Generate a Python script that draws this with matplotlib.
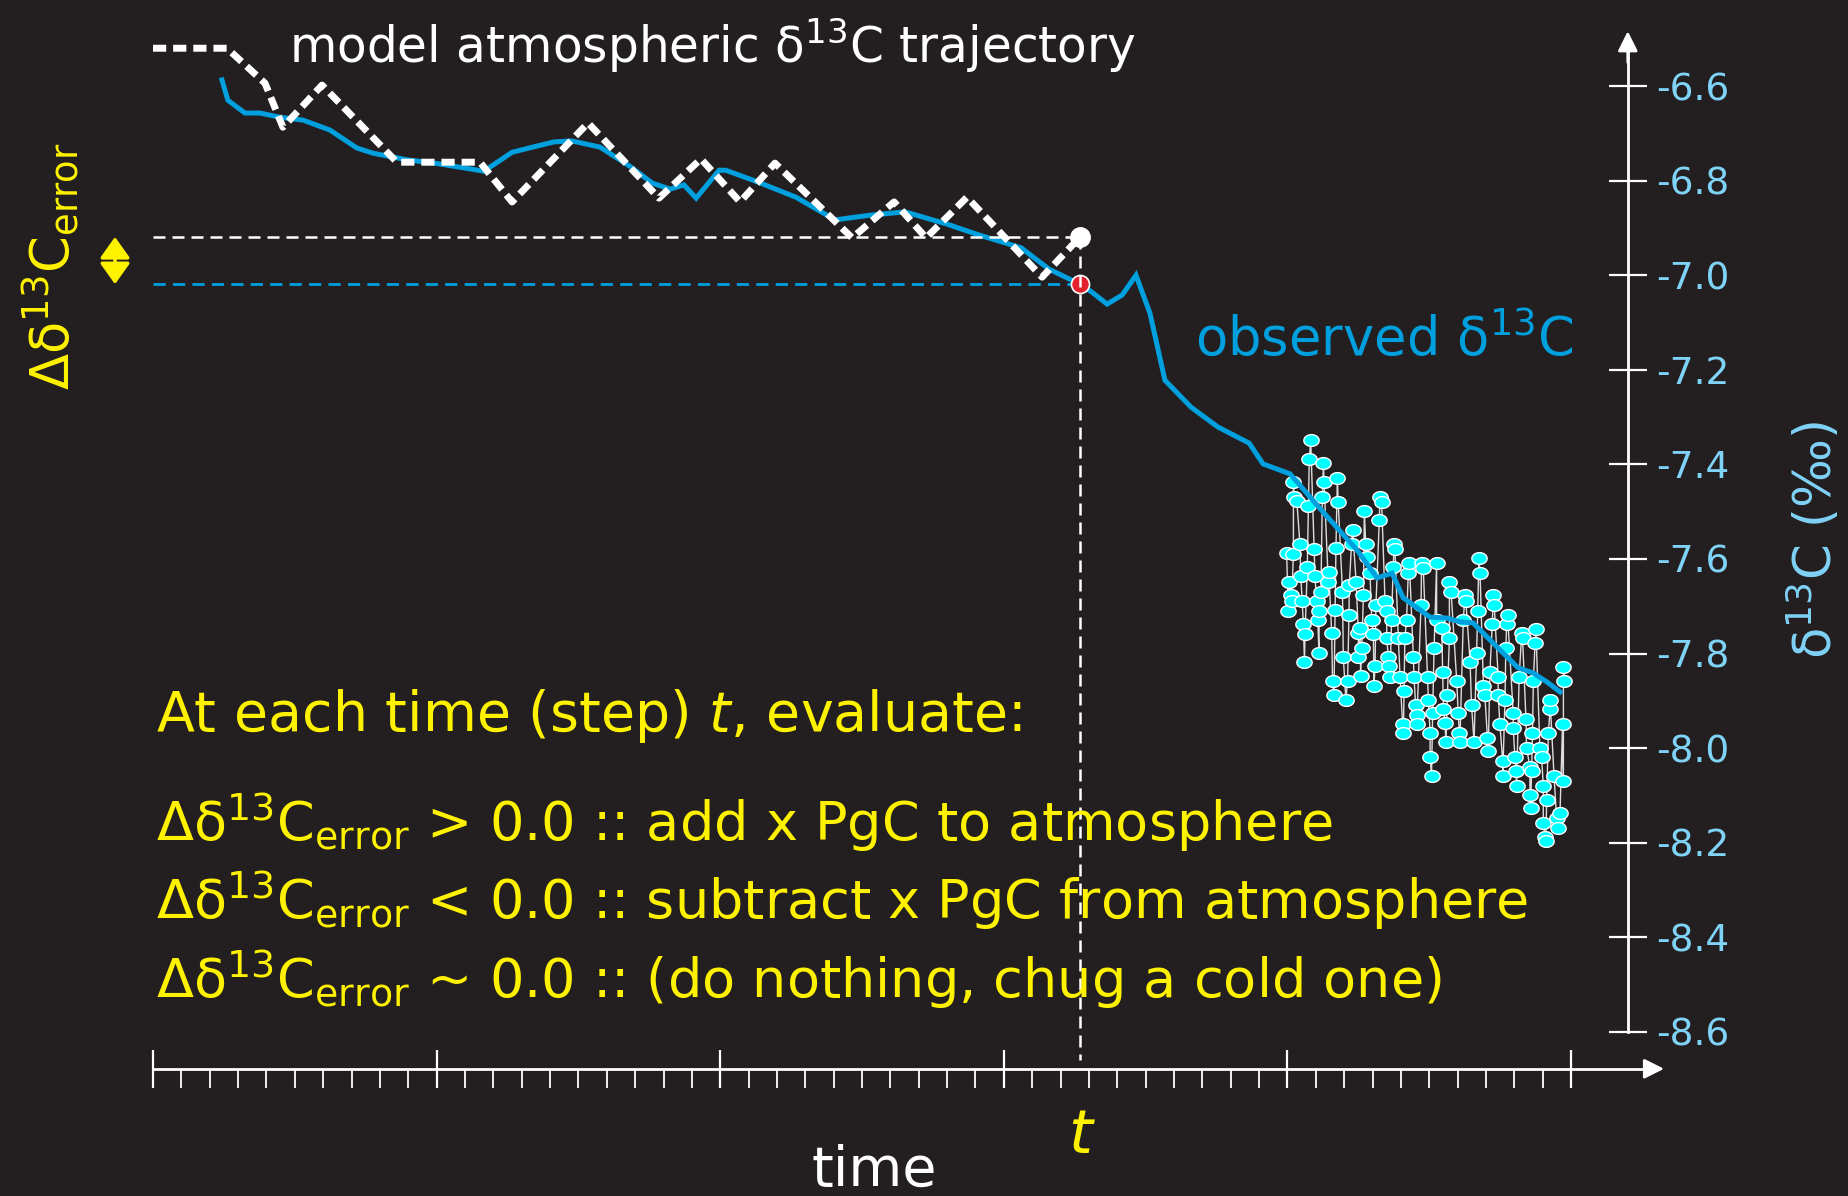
import numpy as np
import matplotlib.pyplot as plt
from matplotlib.path import Path
from matplotlib.ticker import FixedLocator

plt.rcParams['font.family'] = ['DejaVu Sans']
plt.rcParams['mathtext.fontset'] = 'dejavusans'
plt.rcParams['axes.unicode_minus'] = False

W, H = 1849, 1196
BG = '#231f20'
YELLOW = '#fff200'
OBS_BLUE = '#00a0df'
TICK_BLUE = '#7fd3f7'
CYAN = '#00ffff'

# model atmospheric d13C trajectory (time step, permil)
model_t = [0.0, 2.61, 3.95, 4.58, 5.96, 8.60, 11.53, 12.66, 15.34, 17.84, 19.32,
           20.70, 21.93, 24.65, 26.13, 27.26, 28.70, 31.35, 32.69]
model_d13c = [-6.520, -6.520, -6.594, -6.687, -6.598, -6.761, -6.761, -6.845, -6.678,
              -6.837, -6.754, -6.845, -6.763, -6.921, -6.845, -6.921, -6.835, -7.004, -6.919]

# observed (smoothed) d13C
obs_t = [2.43, 2.64, 3.24, 3.77, 4.48, 5.29, 6.24, 7.19, 7.76, 8.46, 8.96, 9.94, 11.67,
         12.66, 13.26, 14.14, 14.77, 15.76, 16.85, 17.60, 18.23, 18.72, 19.15, 19.96,
         20.20, 21.33, 22.67, 24.05, 25.28, 26.52, 28.00, 29.13, 30.61, 31.59, 32.69,
         33.11, 33.64, 34.17, 34.66, 35.15, 35.68, 36.60, 37.55, 38.65, 39.14, 40.09,
         40.44, 41.04, 41.75, 42.45, 43.16, 43.69, 44.08, 45.03, 45.63, 46.09, 46.54,
         47.39, 48.13, 48.66, 49.15, 49.61]
obs_d13c = [-6.587, -6.630, -6.657, -6.657, -6.666, -6.672, -6.693, -6.731, -6.742,
            -6.750, -6.756, -6.763, -6.780, -6.740, -6.731, -6.718, -6.716, -6.729,
            -6.771, -6.805, -6.818, -6.809, -6.837, -6.778, -6.778, -6.803, -6.835,
            -6.883, -6.873, -6.866, -6.892, -6.915, -6.942, -6.987, -7.019, -7.036,
            -7.061, -7.042, -7.000, -7.080, -7.222, -7.279, -7.321, -7.355, -7.399,
            -7.420, -7.444, -7.486, -7.534, -7.581, -7.640, -7.630, -7.682, -7.723,
            -7.725, -7.733, -7.735, -7.786, -7.830, -7.841, -7.860, -7.881]

# individual flask samples
flask_t = [39.97, 40.07, 40.03, 40.11, 40.15, 40.21, 40.21, 40.23, 40.33, 40.44,
           40.47, 40.52, 40.56, 40.62, 40.60, 40.70, 40.74, 40.77, 40.82, 40.94,
           40.97, 41.03, 41.07, 41.11, 41.12, 41.18, 41.23, 41.27, 41.29, 41.44,
           41.46, 41.56, 41.59, 41.64, 41.68, 41.71, 41.76, 41.79, 41.94, 41.97,
           42.06, 42.12, 42.17, 42.18, 42.26, 42.30, 42.42, 42.50, 42.50, 42.56,
           42.58, 42.62, 42.68, 42.71, 42.76, 42.79, 42.91, 42.97, 43.03, 43.05,
           43.09, 43.12, 43.24, 43.26, 43.32, 43.44, 43.50, 43.50, 43.56, 43.58,
           43.62, 43.67, 43.73, 43.76, 43.79, 43.91, 43.97, 44.06, 44.09, 44.11,
           44.14, 44.20, 44.26, 44.30, 44.44, 44.46, 44.52, 44.56, 44.56, 44.71,
           44.73, 44.79, 44.94, 44.97, 45.03, 45.03, 45.08, 45.12, 45.17, 45.26,
           45.26, 45.44, 45.47, 45.50, 45.55, 45.59, 45.64, 45.71, 45.71, 45.77,
           45.97, 46.02, 46.06, 46.08, 46.20, 46.26, 46.29, 46.44, 46.49, 46.58,
           46.67, 46.71, 46.75, 46.79, 46.91, 46.96, 47.05, 47.08, 47.14, 47.22,
           47.26, 47.29, 47.43, 47.43, 47.49, 47.59, 47.59, 47.67, 47.70, 47.73,
           47.76, 47.96, 47.96, 48.02, 48.06, 48.08, 48.17, 48.26, 48.29, 48.41,
           48.43, 48.55, 48.55, 48.57, 48.61, 48.64, 48.67, 48.73, 48.76, 48.90,
           48.96, 49.02, 49.02, 49.08, 49.11, 49.14, 49.20, 49.26, 49.26, 49.40,
           49.49, 49.55, 49.61, 49.70, 49.73, 49.73, 49.76]
flask_d13c = [-7.588, -7.649, -7.709, -7.677, -7.689, -7.589, -7.438, -7.468, -7.477, -7.568,
              -7.637, -7.689, -7.737, -7.758, -7.818, -7.616, -7.489, -7.389, -7.348, -7.579,
              -7.637, -7.689, -7.729, -7.798, -7.709, -7.669, -7.468, -7.398, -7.438, -7.649,
              -7.628, -7.757, -7.859, -7.888, -7.708, -7.577, -7.429, -7.479, -7.669, -7.808,
              -7.898, -7.858, -7.718, -7.656, -7.568, -7.539, -7.648, -7.757, -7.808, -7.746,
              -7.848, -7.789, -7.677, -7.498, -7.568, -7.596, -7.630, -7.729, -7.758, -7.868,
              -7.827, -7.697, -7.517, -7.468, -7.479, -7.688, -7.709, -7.768, -7.808, -7.827,
              -7.849, -7.729, -7.616, -7.568, -7.579, -7.768, -7.849, -7.949, -7.968, -7.879,
              -7.768, -7.729, -7.629, -7.609, -7.808, -7.849, -7.909, -7.930, -7.949, -7.697,
              -7.609, -7.620, -7.849, -7.898, -7.968, -8.018, -8.059, -7.926, -7.789, -7.609,
              -7.729, -7.746, -7.838, -7.918, -7.947, -7.988, -7.888, -7.768, -7.649, -7.669,
              -7.859, -7.926, -7.968, -7.988, -7.729, -7.677, -7.689, -7.818, -7.909, -7.988,
              -7.798, -7.709, -7.598, -7.629, -7.868, -7.887, -7.979, -8.007, -7.838, -7.738,
              -7.677, -7.697, -7.849, -7.887, -7.949, -8.028, -8.059, -7.898, -7.789, -7.738,
              -7.718, -7.926, -7.958, -8.018, -8.049, -8.079, -7.849, -7.757, -7.768, -7.939,
              -8.000, -8.039, -8.099, -8.127, -8.049, -7.968, -7.859, -7.778, -7.749, -8.000,
              -8.018, -8.079, -8.159, -8.187, -8.197, -8.109, -7.968, -7.918, -7.898, -8.059,
              -8.148, -8.169, -8.138, -7.949, -8.069, -7.829, -7.858]

y_ticks = [-8.6, -8.4, -8.2, -8.0, -7.8, -7.6, -7.4, -7.2, -7.0, -6.8, -6.6]
t_step = 32.69

rules = [
    'Δδ$^{13}$C$_{\\mathrm{error}}$ > 0.0 :: add x PgC to atmosphere',
    'Δδ$^{13}$C$_{\\mathrm{error}}$ < 0.0 :: subtract x PgC from atmosphere',
    'Δδ$^{13}$C$_{\\mathrm{error}}$ ~ 0.0 :: (do nothing, chug a cold one)',
]

fig = plt.figure(figsize=(W / 100, H / 100), dpi=100, facecolor=BG)
ax = fig.add_axes([0, 0, 1, 1], facecolor=BG)
ax.set_xlim(-5.395, 59.80)
ax.set_ylim(-8.947, -6.418)

# axes: right spine is the d13C axis, bottom spine is time
ax.spines['left'].set_visible(False)
ax.spines['top'].set_visible(False)
ax.spines['right'].set_position(('data', 52.0))
ax.spines['right'].set_bounds(-8.6, -6.50)
ax.spines['bottom'].set_position(('data', -8.678))
ax.spines['bottom'].set_bounds(0, 53.0)
for s in ['right', 'bottom']:
    ax.spines[s].set_color('white')
    ax.spines[s].set_linewidth(2)

ax.yaxis.set_ticks_position('right')
ax.set_yticks(y_ticks)
ax.set_yticklabels([f'{v:.1f}' for v in y_ticks])
ax.tick_params(axis='y', direction='inout', length=27, width=1.6, color='white',
               labelcolor=TICK_BLUE, labelsize=27, pad=7)

ax.set_xticks(range(0, 51, 10))
ax.set_xticklabels([])
ax.xaxis.set_minor_locator(FixedLocator(range(0, 51)))
ax.tick_params(axis='x', which='major', direction='inout', length=27, width=1.6, color='white')
ax.tick_params(axis='x', which='minor', direction='out', length=13.7, width=1.3, color='white')

arrow = dict(arrowstyle='-|>', color='white', lw=2, mutation_scale=30, shrinkA=0, shrinkB=0)
ax.annotate('', xy=(52.0, -6.484), xytext=(52.0, -6.55), arrowprops=arrow)
ax.annotate('', xy=(53.28, -8.678), xytext=(52.8, -8.678), arrowprops=arrow)

# flask samples
order = np.argsort(flask_t, kind='stable')
ft = np.array(flask_t)[order]
fd = np.array(flask_d13c)[order]
theta = np.linspace(0, 2 * np.pi, 60)
ellipse = Path(np.column_stack([1.3 * np.cos(theta), np.sin(theta)]), closed=True)
ax.plot(ft, fd, color='#dcdcdc', lw=1.0, zorder=2)
ax.plot(ft, fd, ls='none', marker=ellipse, ms=11, mfc=CYAN, mec='white', mew=1.0, zorder=2.5)

# observed and model lines
ax.plot(obs_t, obs_d13c, color=OBS_BLUE, lw=3.6, zorder=3, solid_joinstyle='miter')
ax.plot(model_t, model_d13c, color='white', lw=5, ls=(0, (1.9, 1.0)), zorder=4)

model_end = model_d13c[-1]
obs_at_t = np.interp(t_step, obs_t, obs_d13c)

ax.plot([0, t_step], [model_end, model_end], color='white', lw=1.8, ls=(0, (4.8, 2.8)), zorder=3)
ax.plot([0, t_step], [obs_at_t, obs_at_t], color=OBS_BLUE, lw=2.0, ls=(0, (4.4, 2.6)), zorder=3)

ax.plot(t_step, model_end, 'o', ms=14, mfc='white', mec='white', zorder=5)
ax.plot(t_step, obs_at_t, 'o', ms=13, mfc='#e3202b', mec='white', mew=1.2, zorder=5)
ax.plot([t_step, t_step], [model_end, -8.66], color='white', lw=1.8, ls=(0, (4.8, 2.8)), zorder=6)

ax.annotate('', xy=(-1.34, model_end), xytext=(-1.34, obs_at_t),
            arrowprops=dict(arrowstyle='<|-|>,head_length=0.38,head_width=0.27',
                            color=YELLOW, lw=2.5, mutation_scale=34,
                            shrinkA=0, shrinkB=0))

# texts
def fx(px):
    return px / W


def fy(py):
    return 1 - py / H


fig.text(fx(289), fy(63), 'model atmospheric δ$^{13}$C trajectory', color='white',
         fontsize=35, va='baseline')
fig.text(fx(1195), fy(355), 'observed δ$^{13}$C', color=OBS_BLUE, fontsize=38, va='baseline')
fig.text(fx(50), fy(266), 'Δδ$^{13}$C$_{\\mathrm{error}}$', color=YELLOW, fontsize=38,
         rotation=90, ha='center', va='center')
fig.text(fx(1814), fy(540), 'δ$^{13}$C (‰)', color=TICK_BLUE, fontsize=37,
         rotation=90, ha='center', va='center')

fig.text(fx(156), fy(731), 'At each time (step) $t$, evaluate:', color=YELLOW,
         fontsize=40, va='baseline')
for py, line in zip([841, 919, 998], rules):
    fig.text(fx(156), fy(py), line, color=YELLOW, fontsize=39, va='baseline')

ax.text(t_step, -8.856, 't', style='italic', color=YELLOW, fontsize=44, ha='center', va='baseline')
fig.text(fx(874), fy(1186), 'time', color='white', fontsize=40, ha='center', va='baseline')

fig.savefig('out.png', dpi=100, facecolor=BG)
